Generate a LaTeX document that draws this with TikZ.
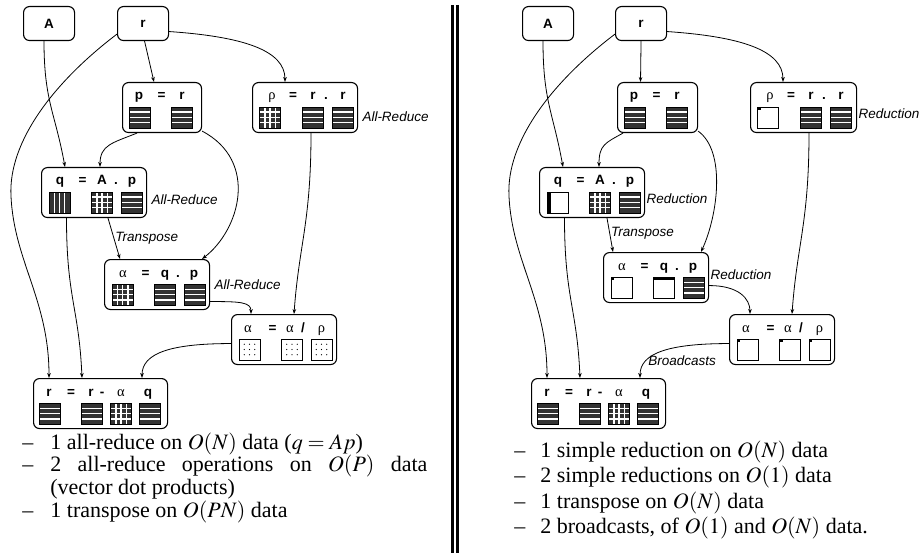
\documentclass[tikz,border=0pt]{standalone}
\usepackage{mathptmx}
\usepackage{fontspec}
\setmainfont{Liberation Serif}
\setsansfont{Liberation Sans}
\usetikzlibrary{calc,arrows.meta}

\newcommand{\gk}{\normalfont\fontsize{14.5}{14.5}\selectfont}

\tikzstyle{op}=[shape=rectangle,
                rounded corners=6pt,
                draw=black,
                line width=1.1pt,
                minimum width=105pt,
                minimum height=50pt,
                inner sep=0pt,
                anchor=north west]
\tikzstyle{src}=[op,
                minimum width=51pt,
                minimum height=34pt,
                font=\sffamily\bfseries\fontsize{13.5}{15}\selectfont]
\tikzstyle{sym}=[anchor=base,
                inner sep=0pt,
                font=\sffamily\bfseries\fontsize{13.5}{15}\selectfont]
\tikzstyle{tag}=[anchor=west,
                inner sep=1pt,
                font=\sffamily\itshape\fontsize{13.5}{15}\selectfont]
\tikzstyle{note}=[anchor=north west,
                inner sep=0pt,
                align=justify,
                font=\fontsize{22}{22.7}\selectfont]
\tikzstyle{blk}=[shape=rectangle,
                draw=black,
                line width=0.6pt,
                minimum size=21pt,
                inner sep=0pt]

\tikzset{
  pat/.style={blk, path picture={\begin{scope}[shift={(path picture bounding box.center)}]#1\end{scope}}},
  rows/.style={fill=black!80, pat={\foreach \t in {-5.25,0,5.25} \draw[white,line width=1.5pt] (-12,\t) -- (12,\t);}},
  cols/.style={fill=black!80, pat={\foreach \t in {-5.25,0,5.25} \draw[white,line width=1.2pt] (\t,-12) -- (\t,12);}},
  grid/.style={fill=black!80, pat={\foreach \t in {-5.25,0,5.25} {\draw[white,line width=1.5pt] (-12,\t) -- (12,\t); \draw[white,line width=1.5pt] (\t,-12) -- (\t,12);}}},
  dots/.style={fill=white, pat={\foreach \i in {-5.25,0,5.25} \foreach \j in {-5.25,0,5.25} \fill[black] (\i,\j) circle (0.7pt);}},
  corner/.style={fill=white, pat={\fill[black] (-10.5,-10.5) rectangle (-7.5,-7.5);}},
  lbar/.style={fill=white, pat={\fill[black] (-10.5,-10.5) rectangle (-6.5,10.5);}},
  tbar/.style={fill=white, pat={\fill[black] (-10.5,-10.5) rectangle (10.5,-7.5);}}
}

% symbols on the top row of a box, and data blocks below them
\newcommand{\syms}[2]{\foreach \s/\c [count=\i] in {#2} \node[sym] (#1-s\i) at ($(#1.north west)+(\c,18)$) {\s};}
\newcommand{\blks}[2]{\foreach \b/\c [count=\i] in {#2} \node[\b] (#1-b\i) at ($(#1.north west)+(\c,35.5)$) {};}

\begin{document}
\begin{tikzpicture}[x=1pt,y=-1pt,>={Stealth[length=5pt,width=3.6pt]},line width=0.8pt]
\useasboundingbox (0,0) rectangle (920,553);

% separator
\draw[line width=2.6pt] (452.3,5) -- (452.3,553);
\draw[line width=2.6pt] (457.5,5) -- (457.5,553);

%%%%% left: all-reduce version

% inputs
\node[src] (A) at (23,6)  {A};
\node[src] (r) at (117,6) {r};

% operations
\node[op,minimum width=79pt] (p) at (122,82) {};
\node[op] (rho) at (252,82) {};
\node[op] (q) at (41,167) {};
\node[op] (al) at (104,259) {};
\node[op] (ad) at (231,314) {};
\node[op,minimum width=134pt] (rr) at (33,378) {};

\syms{p}{p/17, =/39.5, r/60}
\blks{p}{rows/17.5, rows/60}
\syms{rho}{{\gk ρ}/20, =/41, r/61, ./74, r/91}
\blks{rho}{grid/18, rows/60.5, rows/90.5}
\syms{q}{q/19, =/41.5, A/61, ./75, p/91}
\blks{q}{cols/18.5, grid/61, rows/90.5}
\syms{al}{{\gk α}/19, =/41.5, q/61, ./74, p/90}
\blks{al}{grid/18.5, rows/61, rows/90.5}
\syms{ad}{{\gk α}/17, =/41.5, {\gk α}/59, {/}/72, {\gk ρ}/90.5}
\blks{ad}{dots/18.5, dots/61, dots/90.5}
\syms{rr}{r/16, =/38, r/58, -/69, {\gk α}/88, q/115}
\blks{rr}{rows/16.5, rows/59, grid/88, rows/117}

% communication
\node[tag] (t1) at ($(rho.north east)+(3,35)$) {All-Reduce};
\node[tag] (t2) at ($(q.north east)+(3,33)$) {All-Reduce};
\node[tag] (t3) at ($(al.north east)+(3,26)$) {All-Reduce};

% paths
\coordinate (kn) at ($(r.south west)+(-106,155)$);
\draw[->] ($(A.south west)+(21,0)$) .. controls +(0,60) and +(-10,-55) .. ($(q.north west)+(24,0)$);
\draw[->] ($(r.south west)+(0,-7)$) .. controls +(-62,47) and +(-3,-55) .. (kn) .. controls +(3,65) and +(0,-78) .. ($(rr.north west)+(16,0)$);
\draw[->] ($(r.south)+(1.5,0)$) -- ($(p.north west)+(32,0)$);
\draw[->] ($(r.east)+(0,8)$) .. controls +(73,5) and +(0,-32) .. ($(rho.north west)+(33,0)$);
\draw[->] ($(p.south west)+(15,0)$) .. controls +(-25,10) and +(0,-22) .. ($(q.north west)+(59,0)$);
\draw[->] ($(p.south east)+(0,-2)$) .. controls +(57,30) and +(38,-29) .. ($(al.north west)+(98,0)$);
\draw[->] ($(rho.south west)+(59,0)$) .. controls +(0,90) and +(5,-70) .. ($(ad.north west)+(63,0)$);
\draw[->] ($(q.south west)+(25.5,0)$) .. controls +(0,80) and +(-3,-70) .. ($(rr.north west)+(49,0)$);
\draw[->] ($(q.south west)+(67,0)$) -- node[tag,pos=0.5] {Transpose} ($(al.north west)+(16,0)$);
\draw[->] ($(al.east)+(0,17)$) .. controls +(30,0) and +(0,-12) .. ($(ad.north west)+(20,0)$);
\draw[->] ($(ad.west)+(0,4)$) .. controls +(-60,0) and +(0,-25) .. ($(rr.north west)+(109,0)$);

% cost
\node[note,text width=405pt] (costL) at (22,426) {%
\begin{list}{--}{\setlength{\leftmargin}{28pt}\setlength{\labelsep}{17pt}\setlength{\labelwidth}{11pt}%
\setlength{\itemsep}{0pt}\setlength{\parsep}{0pt}\setlength{\topsep}{0pt}\setlength{\partopsep}{0pt}}
\item 1 all-reduce on $O(N)$ data ($q = Ap$)
\item 2 all-reduce operations on $O(P)$ data \linebreak (vector dot products)
\item 1 transpose on $O(PN)$ data
\end{list}};

%%%%% right: reduction / broadcast version

% inputs
\node[src] (A2) at (522,6)  {A};
\node[src] (r2) at (615,6) {r};

% operations
\node[op,minimum width=80pt] (p2) at (617,82) {};
\node[op,minimum width=106pt] (rho2) at (750,82) {};
\node[op] (q2) at (539,167) {};
\node[op] (al2) at (603,252) {};
\node[op] (ad2) at (729,314) {};
\node[op,minimum width=134pt] (rr2) at (531,378) {};

\syms{p2}{p/17, =/39.5, r/60}
\blks{p2}{rows/17.5, rows/60}
\syms{rho2}{{\gk ρ}/20, =/41, r/61, ./74, r/91}
\blks{rho2}{corner/18, rows/60.5, rows/90.5}
\syms{q2}{q/19, =/41.5, A/61, ./75, p/91}
\blks{q2}{lbar/18.5, grid/61, rows/90.5}
\syms{al2}{{\gk α}/19, =/41.5, q/61, ./74, p/90}
\blks{al2}{corner/18.5, tbar/61, rows/90.5}
\syms{ad2}{{\gk α}/17, =/41.5, {\gk α}/59, {/}/72, {\gk ρ}/90.5}
\blks{ad2}{corner/18.5, corner/61, corner/90.5}
\syms{rr2}{r/16, =/38, r/58, -/69, {\gk α}/88, q/115}
\blks{rr2}{rows/16.5, rows/59, grid/88, rows/117}

% communication
\node[tag] (u1) at ($(rho2.north east)+(0,32)$) {Reduction};
\node[tag] (u2) at ($(q2.north east)+(0,32)$) {Reduction};
\node[tag] (u3) at ($(al2.north east)+(0,23)$) {Reduction};

% paths
\coordinate (kn2) at ($(r2.south west)+(-106,155)$);
\draw[->] ($(A2.south west)+(21,0)$) .. controls +(0,60) and +(-10,-55) .. ($(q2.north west)+(24,0)$);
\draw[->] ($(r2.south west)+(0,-7)$) .. controls +(-62,47) and +(-3,-55) .. (kn2) .. controls +(3,65) and +(0,-78) .. ($(rr2.north west)+(16,0)$);
\draw[->] (r2.south) -- ($(p2.north west)+(23.5,0)$);
\draw[->] ($(r2.east)+(0,8)$) .. controls +(73,5) and +(0,-32) .. ($(rho2.north west)+(33,0)$);
\draw[->] ($(p2.south west)+(6,0)$) .. controls +(-18,10) and +(0,-22) .. ($(q2.north west)+(60,0)$);
\draw[->] ($(p2.south east)+(0,-2)$) .. controls +(28,20) and +(17,-37) .. ($(al2.north west)+(98,0)$);
\draw[->] ($(rho2.south west)+(59,0)$) .. controls +(0,90) and +(5,-70) .. ($(ad2.north west)+(63,0)$);
\draw[->] ($(q2.south west)+(25.5,0)$) .. controls +(0,80) and +(-3,-70) .. ($(rr2.north west)+(49,0)$);
\draw[->] ($(q2.south west)+(68,0)$) -- node[tag,pos=0.45] {Transpose} ($(al2.north west)+(10,0)$);
\draw[->] ($(al2.east)+(0,8)$) .. controls +(30,0) and +(0,-15) .. ($(ad2.north west)+(21,0)$);
\draw[->] ($(ad2.west)+(0,4)$) .. controls +(-60,0) and +(0,-25) .. node[tag,pos=0.72] {Broadcasts} ($(rr2.north west)+(109,0)$);

% cost
\node[note,text width=390pt] (costR) at (514,434) {%
\begin{list}{--}{\setlength{\leftmargin}{26pt}\setlength{\labelsep}{15pt}\setlength{\labelwidth}{11pt}%
\setlength{\itemsep}{2.8pt}\setlength{\parsep}{0pt}\setlength{\topsep}{0pt}\setlength{\partopsep}{0pt}}
\item 1 simple reduction on $O(N)$ data
\item 2 simple reductions on $O(1)$ data
\item 1 transpose on $O(N)$ data
\item 2 broadcasts, of $O(1)$ and $O(N)$ data.
\end{list}};

\end{tikzpicture}
\end{document}
